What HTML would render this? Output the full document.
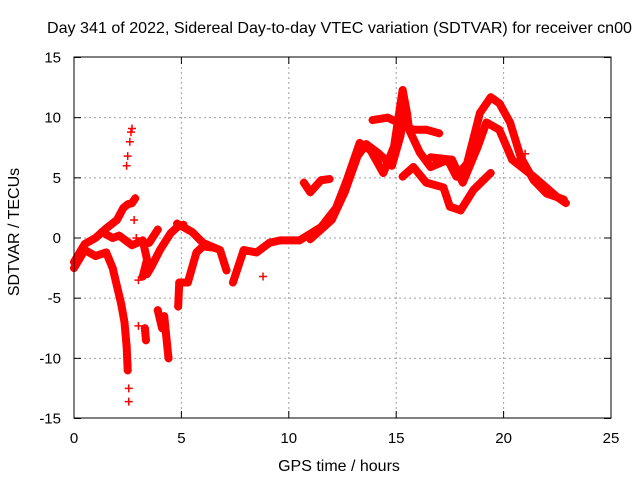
<!DOCTYPE html>
<html><head><meta charset="utf-8"><style>
body{margin:0;background:#fff;}
svg text{font-family:"Liberation Sans",sans-serif;font-size:15px;fill:#000;}
</style></head><body>
<svg id="chart" width="640" height="480" xmlns="http://www.w3.org/2000/svg">
<rect width="640" height="480" fill="#fff"/>
<g id="grid"></g><g id="marks"></g><g id="axes"></g>
<text x="47" y="33" textLength="585" lengthAdjust="spacingAndGlyphs" style="font-size:16px">Day 341 of 2022, Sidereal Day-to-day VTEC variation (SDTVAR) for receiver cn00</text>
<text x="339" y="471" text-anchor="middle" style="font-size:16px">GPS time / hours</text>
<text transform="translate(19,232) rotate(-90)" text-anchor="middle" style="font-size:16px">SDTVAR / TECUs</text>
</svg>
<script>
const xTicks=[0,5,10,15,20,25];
const yTicks=[-15,-10,-5,0,5,10,15];
const seriesA=[[0,-2],[0.5,-0.5],[1,0],[1.5,0.8],[2,1.5],[2.3,2.5],[2.5,2.8],[2.7,2.9],[2.85,3.3]];
const seriesB=[[0,-2.5],[0.5,-1],[1,-1.5],[1.5,-1.2],[1.8,-2.5],[2,-4],[2.2,-5.5],[2.35,-7],[2.45,-9],[2.5,-11]];
const seriesC=[[1.3,0.5],[1.8,0],[2.1,0.2],[2.7,-0.6],[3.2,-0.2],[3.4,-1.8],[3.2,-3.2]];
const seriesD=[[3.4,-3],[3.6,-2.4],[4,-1],[4.5,0.4],[4.8,0.9],[5.1,1.1]];
const seriesE=[[3.5,-0.4],[3.9,0.7]];
const seriesF=[[4.8,1.2],[5.5,0.5],[6,-0.4],[6.8,-1],[7.1,-2.7]];
const seriesG=[[4.85,-5.7],[4.9,-3.7],[5.3,-3.7],[5.7,-1.2],[6,-0.7],[6.5,-0.8]];
const seriesH=[[7.4,-3.7],[7.9,-1],[8.5,-1.2],[9.1,-0.4],[9.6,-0.2],[10.5,-0.2],[11.5,0.9],[12.2,2.5],[12.7,4.8],[13.3,7.9],[13.8,7.3],[14.4,5.4],[14.9,7.6],[15.3,12.3],[15.5,10.4],[15.6,9],[16.1,7.1],[16.6,5.9],[17.4,6.5],[17.8,5.1],[18.3,6.2],[18.9,10.4],[19.4,11.7],[19.8,11.2],[20.3,9.6],[20.8,6.7],[21.4,4.8],[22,3.7],[22.8,3.2]];
const seriesI=[[13.9,9.8],[14.6,10],[15.2,9.5],[15.8,9],[16.4,9],[17,8.7]];
const seriesJ=[[15.3,5.1],[15.8,5.9],[16.4,4.6],[17.2,4.2],[17.5,2.6],[18,2.3],[18.6,4],[19.4,5.4]];
const seriesK=[[16.6,6.7],[17.6,6.5],[18.1,4.6],[18.8,7.6],[19.2,9.6],[19.8,9],[20.4,6.5],[21.4,5.1],[22.5,3.4],[22.9,2.9]];
const seriesL=[[10.7,4.6],[11,3.8],[11.5,4.8],[11.9,4.9]];
const seriesM=[[3.9,-6],[4.1,-7.5],[4.2,-6.5],[4.4,-10]];
const seriesN=[[3.3,-7.5],[3.35,-8.5]];
const seriesO=[[11,-0.1],[12,1.5],[12.6,3.8],[13.2,6.8],[13.6,7.8],[14.2,7.0],[14.8,6.0],[15.2,8.5],[15.4,10.8]];
const sparse=[[2.45,6],[2.5,6.8],[2.6,8],[2.65,8.8],[2.7,9.1],[2.55,-12.5],[2.55,-13.6],[2.5,-10.5],[2.4,-8],[2.8,1.5],[2.9,0],[3.0,-3.5],[3.0,-7.3],[8.8,-3.2],[21,7]];
const allSeries=[seriesA,seriesB,seriesC,seriesD,seriesE,seriesF,seriesG,seriesH,seriesI,seriesJ,seriesK,seriesL,seriesM,seriesN,seriesO];
const X=h=>74+h*(611-74)/25;
const Y=v=>238-v*(418-57)/30;
const NS="http://www.w3.org/2000/svg";
function mk(t,a,p){const e=document.createElementNS(NS,t);for(const k in a)e.setAttribute(k,a[k]);p.appendChild(e);return e;}
const grid=document.getElementById('grid'),axes=document.getElementById('axes'),marks=document.getElementById('marks');
xTicks.forEach(t=>{
 if(t>0&&t<25){const l=mk('line',{x1:X(t),x2:X(t),y1:57,y2:418,stroke:'#a0a0a0','stroke-dasharray':'2,3'},grid);
 
 }
 const tx=mk('text',{x:X(t),y:443,'text-anchor':'middle'},axes);tx.textContent=t;
 
 
 mk('line',{x1:X(t),x2:X(t),y1:418,y2:411,stroke:'#000'},axes);
 mk('line',{x1:X(t),x2:X(t),y1:57,y2:64,stroke:'#000'},axes);
});
yTicks.forEach(t=>{
 if(t>-15&&t<15){const l=mk('line',{x1:74,x2:611,y1:Y(t),y2:Y(t),stroke:'#a0a0a0','stroke-dasharray':'2,3'},grid);
 
 }
 const tx=mk('text',{x:61,y:Y(t)+5,'text-anchor':'end'},axes);tx.textContent=t;
 
 
 mk('line',{x1:74,x2:81,y1:Y(t),y2:Y(t),stroke:'#000'},axes);
 mk('line',{x1:611,x2:604,y1:Y(t),y2:Y(t),stroke:'#000'},axes);
});
const fr=mk('rect',{x:74,y:57,width:537,height:361,fill:'none',stroke:'#000'},axes);


function plus(h,v){const x=X(h),y=Y(v);
 const p=mk('path',{d:`M${x-4},${y}H${x+4}M${x},${y-4}V${y+4}`,stroke:'#f00','stroke-width':1.5},marks);
 
 }
allSeries.forEach(s=>{
 const pl=mk('polyline',{points:s.map(p=>X(p[0])+','+Y(p[1])).join(' '),fill:'none',stroke:'#f00','stroke-width':8,'stroke-linejoin':'round','stroke-linecap':'round'},marks);
 
 
 s.forEach(p=>plus(p[0],p[1]));
});
sparse.forEach(p=>plus(p[0],p[1]));
</script>
</body></html>
